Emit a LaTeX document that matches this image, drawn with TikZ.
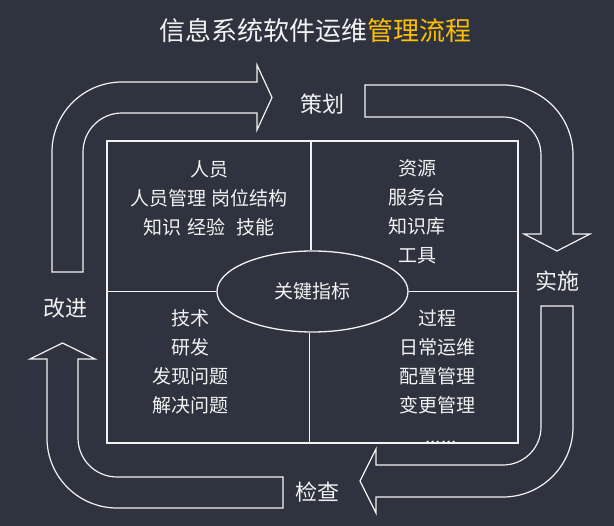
\documentclass[tikz,border=0pt]{standalone}
\usepackage{fontspec}
\setmainfont{Noto Sans CJK SC}
\usetikzlibrary{shapes.geometric}
\definecolor{bg}{HTML}{2F333F}
\definecolor{fg}{HTML}{F2F2F2}
\definecolor{gold}{HTML}{FFC000}
\begin{document}
\begin{tikzpicture}[x=1pt,y=-1pt,
  blockarrow/.style={draw=fg, line width=1.2pt, line join=miter},
  quad/.style={text=fg, align=center, font=\fontsize{19}{29}\selectfont, inner sep=0pt},
  stage/.style={text=fg, font=\fontsize{22}{26}\selectfont, inner sep=0pt},
  divider/.style={draw=fg, line width=1.3pt}]
\fill[bg] (0,0) rectangle (614,526);
\useasboundingbox (0,0) rectangle (614,526);

% title
\node[text=fg, font=\fontsize{26}{30}\selectfont, inner sep=0pt] (title) at (315.5,31)
  {信息系统软件运维\textcolor{gold}{管理流程}};

% frame and key indicators
\node[draw=fg, line width=1.3pt, minimum width=411pt, minimum height=302pt, inner sep=0pt] (frame) at (312.5,292) {};
\node[ellipse, draw=fg, line width=1.3pt, minimum width=191pt, minimum height=81pt, inner sep=0pt,
  text=fg, font=\fontsize{19}{22}\selectfont] (kpi) at (312.5,291.5) {关键指标};

\draw[divider] ([xshift=-1.5pt]kpi.north) -- ([xshift=-1.5pt]kpi.north |- frame.north);
\draw[divider] ([xshift=-3pt]kpi.south) -- ([xshift=-3pt]kpi.south |- frame.south);
\draw[divider] (kpi.west) -- (kpi.west -| frame.west);
\draw[divider] (kpi.east) -- (kpi.east -| frame.east);

% quadrants
\node[quad] (people) at (209,198) {人员\\人员管理 岗位结构\\知识\hspace{0.3em}经验\hspace{0.6em}技能};
\node[quad] (resource) at (417,212) {资源\\服务台\\知识库\\工具};
\node[quad] (tech) at (190,362) {技术\\研发\\发现问题\\解决问题};
\node[quad] (process) at (437,362) {过程\\日常运维\\配置管理\\变更管理};
\node[quad, anchor=base] (more) at (441,443.5) {......};

% stage labels
\node[stage] (plan) at (322,104) {策划};
\node[stage] (do) at (557,281) {实施};
\node[stage] (check) at (317,492) {检查};
\node[stage] (act) at (65,308) {改进};

% block arrows
\draw[blockarrow] (52,272) -- (52,152) arc[start angle=180,end angle=270,radius=70]
  -- (257,82) -- (257,65) -- (272,97.5) -- (257,130) -- (257,113) -- (122,113)
  arc[start angle=270,end angle=180,radius=39] -- (83,272) -- cycle;

\draw[blockarrow] (365,85) -- (503,85) arc[start angle=270,end angle=360,radius=70]
  -- (573,234) -- (590,234) -- (557,251) -- (524,234) -- (541,234) -- (541,155)
  arc[start angle=0,end angle=-90,radius=38] -- (365,117) -- cycle;

\draw[blockarrow] (541,306) -- (573,306) -- (573,427) arc[start angle=0,end angle=90,radius=70]
  -- (376,497) -- (376,513) -- (360,481) -- (376,449) -- (376,465) -- (503,465)
  arc[start angle=90,end angle=0,radius=38] -- cycle;

\draw[blockarrow] (283,508) -- (117,508) arc[start angle=90,end angle=180,radius=70]
  -- (47,359) -- (30,359) -- (62.5,343) -- (95,359) -- (78,359) -- (78,438)
  arc[start angle=180,end angle=90,radius=39] -- (283,477) -- cycle;
\end{tikzpicture}
\end{document}
